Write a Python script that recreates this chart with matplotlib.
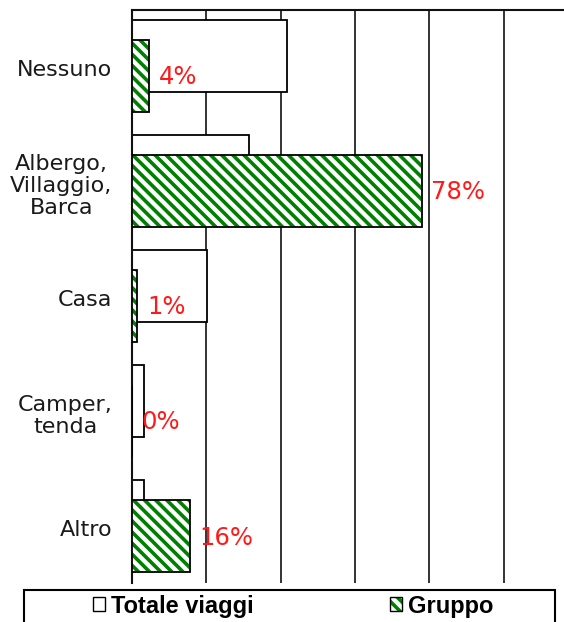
import matplotlib
matplotlib.use("Agg")
import matplotlib.pyplot as plt
from matplotlib.patches import Patch, Rectangle
from matplotlib.legend_handler import HandlerTuple

categories = ["Nessuno", "Albergo,\nVillaggio,\nBarca", "Casa", "Camper,\ntenda", "Altro"]
totale_viaggi = [41.7, 31.5, 20.2, 3.2, 3.2]
gruppo = [4.6, 78.0, 1.4, 0.0, 15.6]
gruppo_labels = ["4%", "78%", "1%", "0%", "16%"]
series_names = ["Totale viaggi", "Gruppo"]

W, H = 564, 622
fig = plt.figure(figsize=(W / 100, H / 100), dpi=100)
plt.rcParams['hatch.linewidth'] = 2.6

ax_left, ax_top, ax_bottom = 132, 10, 583
ax = fig.add_axes([ax_left / W, 1 - ax_bottom / H, 1 - ax_left / W, (ax_bottom - ax_top) / H])

green = "#008000"
hatch = "\\" * 3
bh = 0.625
off = 0.173
n = len(categories)
for i in range(n):
    yw = i + bh / 2
    yg = i + off + bh / 2
    ax.barh(yw, totale_viaggi[i], height=bh, color="white", edgecolor="black", linewidth=1.3, zorder=2)
    ax.barh(yg, gruppo[i], height=bh, color="white", edgecolor=green, hatch=hatch, linewidth=0, zorder=3)
    ax.barh(yg, gruppo[i], height=bh, fill=False, edgecolor="black", linewidth=1.3, zorder=4)
    ax.annotate(gruppo_labels[i], xy=(gruppo[i], yg), xytext=(7, -1), textcoords="offset points",
                va="center", ha="left", color="#ff1a1a", fontsize=17.5, family="DejaVu Sans", zorder=5)

ax.set_xlim(0, (W - ax_left) / 3.715)
ax.set_ylim(4 + off + bh + 0.095, -0.087)
ax.set_xticks([20, 40, 60, 80, 100])
ax.xaxis.grid(True, color="#111111", linewidth=1.2)
ax.set_axisbelow(True)
ax.tick_params(axis="x", length=0, labelbottom=False)
ax.set_yticks([i + (off + bh) / 2 + 0.02 for i in range(n)])
ax.set_yticklabels(categories, fontsize=16, family="DejaVu Sans", color="#1a1a1a",
                   multialignment="center", linespacing=1.1)
ax.tick_params(axis="y", length=0, pad=14)
for s in ["right", "bottom"]:
    ax.spines[s].set_visible(False)
for s in ["left", "top"]:
    ax.spines[s].set_linewidth(1.5)
    ax.spines[s].set_color("#111111")

# legend frame
fig.add_artist(Rectangle((24 / W, -0.05), (555 - 24) / W, 0.05 + (1 - 590 / H),
                         transform=fig.transFigure, fill=False, edgecolor="black", linewidth=1.5))
h1 = Patch(facecolor="white", edgecolor="black", linewidth=1.0)
h2a = Patch(facecolor="white", edgecolor=green, hatch=hatch, linewidth=0)
h2b = Patch(fill=False, edgecolor="black", linewidth=1.0)
fig.legend([h1, (h2a, h2b)], series_names, loc="center", bbox_to_anchor=(293 / W, 1 - 606 / H),
           ncol=2, frameon=False, columnspacing=5.8, handlelength=0.5, handleheight=0.5,
           handletextpad=0.25, prop={"family": "Liberation Sans", "weight": "bold", "size": 17},
           handler_map={tuple: HandlerTuple(ndivide=1)})

fig.savefig("out.png", dpi=100)
